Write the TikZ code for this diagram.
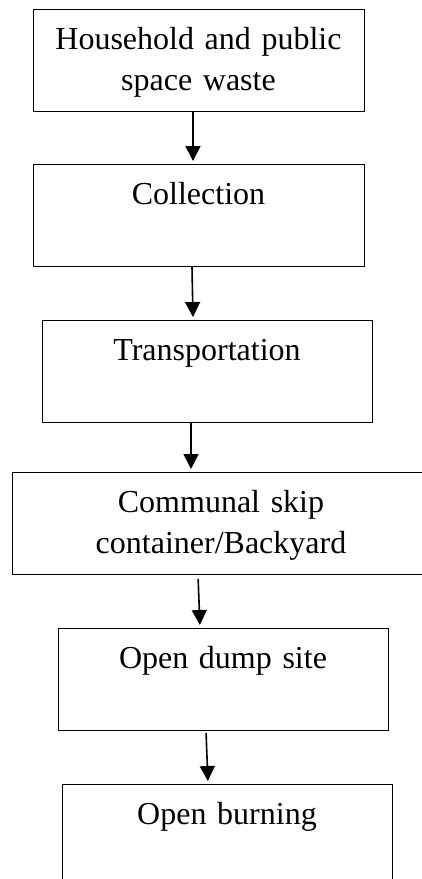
\documentclass[tikz,border=0pt]{standalone}
\usepackage{fontspec}
\setmainfont{Liberation Serif}
\usetikzlibrary{arrows.meta}

\begin{document}
\begin{tikzpicture}
[x=1pt,y=-1pt,line width=.9pt,
 stage/.style={draw,rectangle,anchor=north,align=center,inner xsep=0pt,inner ysep=0pt,
   text height=40pt,text depth=62pt,font=\fontsize{32}{41}\selectfont},
 flow/.style={line width=1.6pt,-{Triangle[width=15pt,length=15pt]},shorten >=3pt}]

\useasboundingbox (0,0) rectangle (422,879);
\clip (0,0) rectangle (422,879);

\node[stage,text width=331pt] (waste) at (198.5,9) {Household and public\\space waste};
\node[stage,text width=331pt] (collect) at (198.5,164) {Collection};
\node[stage,text width=330pt] (transport) at (207,320) {Transportation};
\node[stage,text width=418pt] (skip) at (221,472) {Communal skip\\container/Backyard};
\node[stage,text width=330pt] (dump) at (223,628) {Open dump site};
\node[stage,text width=330pt] (burn) at (227,784) {Open burning};

\draw[flow] ([xshift=-5.5pt]waste.south) -- ([xshift=-5.5pt]collect.north);
\draw[flow] ([xshift=-6.5pt]collect.south) -- ([xshift=-14pt]transport.north);
\draw[flow] ([xshift=-16pt]transport.south) -- ([xshift=-30pt]skip.north);
\draw[flow,shorten <=4pt] ([xshift=-23pt]skip.south) -- ([xshift=-23pt]dump.north);
\draw[flow,shorten <=2pt] ([xshift=-17pt]dump.south) -- ([xshift=-19pt]burn.north);

\end{tikzpicture}
\end{document}
